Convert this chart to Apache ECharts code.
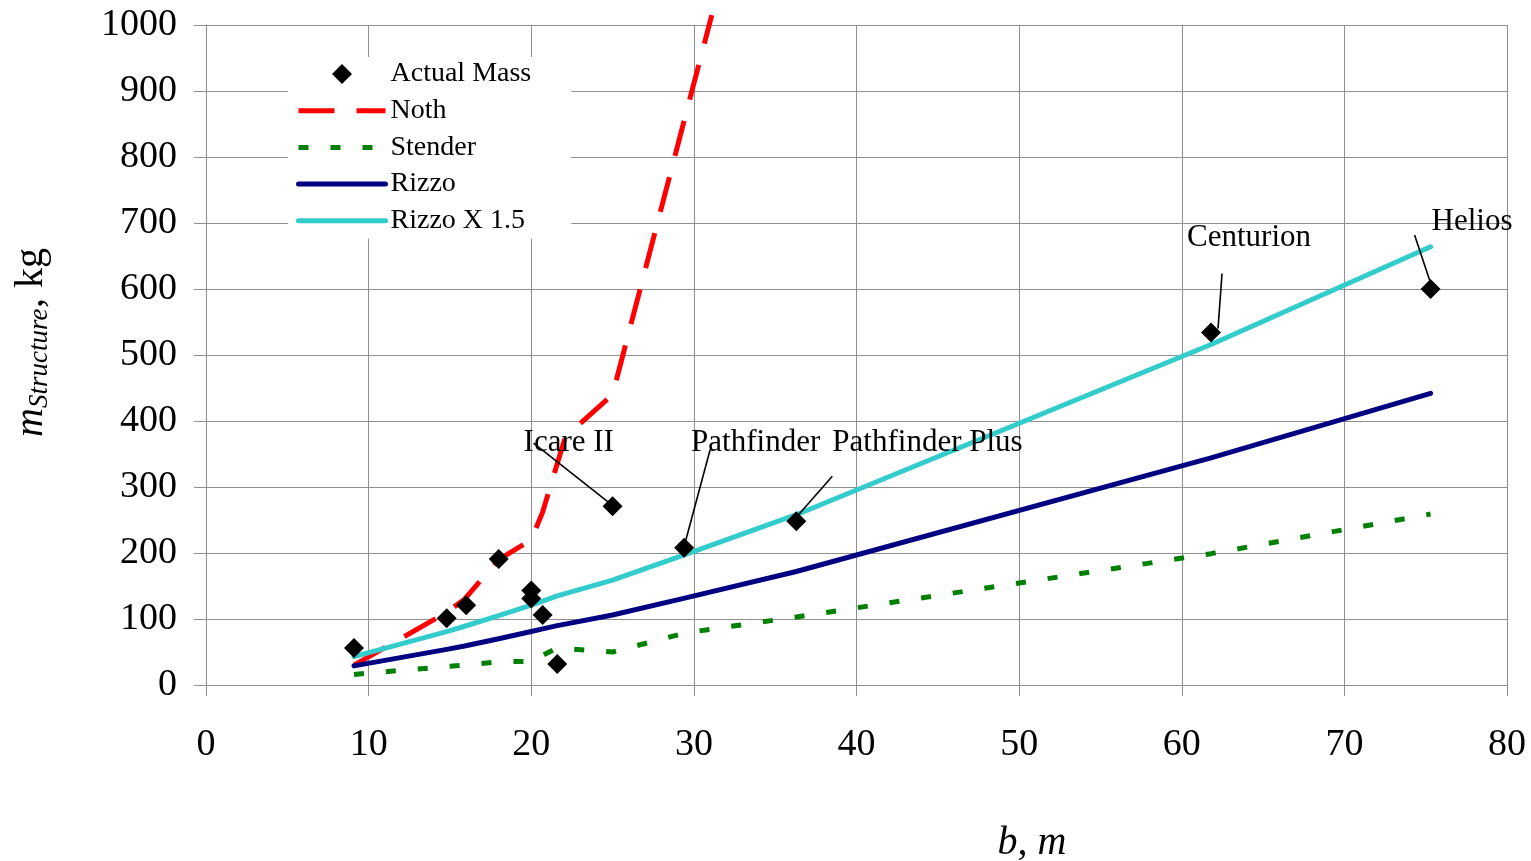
<!DOCTYPE html>
<html>
<head>
<meta charset="utf-8">
<script src="https://cdn.jsdelivr.net/npm/echarts@6/dist/echarts.min.js"></script>
<style>
html, body { margin: 0; padding: 0; background: #fff; }
#chart { width: 1531px; height: 861px; }
</style>
</head>
<body>
<div id="chart"></div>
<script>
const FONT = '"Liberation Serif", "Times New Roman", serif';

// Built aircraft: wingspan b (m) and measured structural mass (kg)
const craftSpan = [9.1, 14.8, 16.0, 18.0, 20.0, 20.0, 20.7, 21.6, 25.0, 29.4, 36.3, 61.8, 75.3];
const craftMass = [56, 101, 121, 191, 143, 131, 106, 32, 271, 208, 248, 534, 600];

// Named aircraft (index into the arrays above)
const namedLabels = ['Icare II', 'Pathfinder', 'Pathfinder Plus', 'Centurion', 'Helios'];
const namedIndex = [8, 9, 10, 11, 12];

// Structural mass estimates from the four models
const nothSpan = [9.1, 14.8, 15.9, 18.0, 20.0, 20.7, 22.1, 25.0, 31.1];
const nothMass = [30, 110, 130, 190, 220, 262, 376, 440, 1015];

const stenderSpan = [9.1, 14.8, 15.9, 18.0, 20.0, 20.7, 21.6, 25.0, 29.5, 36.3, 61.8, 75.3];
const stenderMass = [16, 28, 30, 35, 36, 45, 56, 50, 79, 103, 199, 259];

const rizzoSpan = [9.1, 14.8, 15.9, 18.0, 20.0, 20.7, 21.6, 25.0, 29.5, 36.3, 61.8, 75.3];
const rizzoMass = [29, 54, 59, 70, 81, 85, 90, 106, 132, 172, 344, 442];

const rizzo15Span = [9.1, 14.8, 15.9, 18.0, 20.0, 20.7, 21.6, 25.0, 29.5, 36.3, 61.8, 75.3];
const rizzo15Mass = [43, 81, 89, 105, 121, 127, 135, 159, 198, 258, 516, 664];

// Axis ticks
const xTicks = { min: 0, max: 80, step: 10 };
const yTicks = { min: 0, max: 1000, step: 100 };

// Callout placement for each named aircraft, in pixels from its marker:
// leader line from (sx, sy) to (lx, ly), text starting at (tx, ty)
const calloutOffsets = [
  { sx: -3, sy: -3, lx: -79, ly: -63, tx: -89, ty: -63 },
  { sx: 1, sy: -5, lx: 26, ly: -98, tx: 7, ty: -105 },
  { sx: 0, sy: -4, lx: 36, ly: -45, tx: 36, ty: -78 },
  { sx: 7, sy: -4, lx: 11, ly: -59, tx: -24, ty: -95 },
  { sx: 0, sy: -6, lx: -16, ly: -54, tx: 1, ty: -67 }
];

const zip = (xs, ys) => xs.map((x, i) => [x, ys[i]]);

const GRID_COLOR = '#8f8f8f';
const DIAMOND = 'path://M10,0 L20,10 L10,20 L0,10 Z';

const chart = echarts.init(document.getElementById('chart'), null, { renderer: 'canvas' });

// legend entries for the model lines show the stroke only
const lineEntry = name => ({ name: name, itemStyle: { opacity: 0 } });

const option = {
  backgroundColor: '#fff',
  animation: false,
  grid: { left: 206, right: 24, top: 25, bottom: 176, containLabel: false, outerBoundsMode: 'none' },
  xAxis: {
    type: 'value',
    min: xTicks.min, max: xTicks.max, interval: xTicks.step,
    axisLine: { show: true, lineStyle: { color: GRID_COLOR, width: 1 } },
    axisTick: { show: true, length: 11, lineStyle: { color: GRID_COLOR } },
    axisLabel: { color: '#000', fontFamily: FONT, fontSize: 38, margin: 41, formatter: v => String(v) },
    splitLine: { show: true, lineStyle: { color: GRID_COLOR, width: 1 } }
  },
  yAxis: {
    type: 'value',
    min: yTicks.min, max: yTicks.max, interval: yTicks.step,
    axisLine: { show: true, lineStyle: { color: GRID_COLOR, width: 1 } },
    axisTick: { show: true, length: 12, lineStyle: { color: GRID_COLOR } },
    axisLabel: { color: '#000', fontFamily: FONT, fontSize: 38, margin: 29, formatter: v => String(v) },
    splitLine: { show: true, lineStyle: { color: GRID_COLOR, width: 1 } }
  },
  legend: {
    orient: 'vertical',
    left: 288, top: 57,
    padding: [3, 40, 4, 8],
    backgroundColor: '#fff',
    itemWidth: 87, itemHeight: 20, itemGap: 8.7,
    textStyle: { color: '#000', fontFamily: FONT, fontSize: 28, lineHeight: 28 },
    lineStyle: { width: 'inherit' },
    data: [
      { name: 'Actual Mass', icon: DIAMOND },
      lineEntry('Noth'),
      lineEntry('Stender'),
      lineEntry('Rizzo'),
      lineEntry('Rizzo X 1.5')
    ]
  },
  series: [
    {
      name: 'Noth', type: 'line', data: zip(nothSpan, nothMass),
      symbol: 'none', clip: false, z: 2,
      lineStyle: { color: '#ff0000', width: 5, type: [36, 22], cap: 'butt' },
      itemStyle: { color: '#ff0000' }
    },
    {
      name: 'Stender', type: 'line', data: zip(stenderSpan, stenderMass),
      symbol: 'none', z: 2,
      lineStyle: { color: '#008000', width: 5, type: [10, 22], cap: 'butt' },
      itemStyle: { color: '#008000' }
    },
    {
      name: 'Rizzo', type: 'line', data: zip(rizzoSpan, rizzoMass),
      symbol: 'none', z: 2,
      lineStyle: { color: '#000080', width: 5, cap: 'round', join: 'round' },
      itemStyle: { color: '#000080' }
    },
    {
      name: 'Rizzo X 1.5', type: 'line', data: zip(rizzo15Span, rizzo15Mass),
      symbol: 'none', z: 2,
      lineStyle: { color: '#33cccc', width: 5, cap: 'round', join: 'round' },
      itemStyle: { color: '#33cccc' }
    },
    {
      name: 'Actual Mass', type: 'scatter', data: zip(craftSpan, craftMass),
      symbol: 'diamond', symbolSize: 20, z: 4,
      itemStyle: { color: '#000', opacity: 1 }
    },
    {
      name: 'callouts', type: 'custom', z: 3, clip: false, silent: true,
      data: namedIndex.map(i => [craftSpan[i], craftMass[i]]),
      renderItem: function (params, api) {
        const p = api.coord([api.value(0), api.value(1)]);
        const o = calloutOffsets[params.dataIndex];
        return {
          type: 'group',
          children: [
            {
              type: 'line',
              shape: { x1: p[0] + o.sx, y1: p[1] + o.sy, x2: p[0] + o.lx, y2: p[1] + o.ly },
              style: { stroke: '#000', lineWidth: 1.6 }
            },
            {
              type: 'text',
              x: p[0] + o.tx, y: p[1] + o.ty,
              style: {
                text: namedLabels[params.dataIndex],
                fill: '#000', fontFamily: FONT, fontSize: 31,
                align: 'left', verticalAlign: 'middle'
              }
            }
          ]
        };
      }
    }
  ],
  graphic: [
    {
      type: 'text', x: 1032, y: 843,
      style: {
        text: 'b, m', fill: '#000', font: 'italic 40px ' + FONT,
        align: 'center', verticalAlign: 'middle'
      }
    },
    {
      type: 'group', x: 31, y: 437, rotation: Math.PI / 2,
      children: [
        { type: 'text', x: 0, y: 0, style: { text: 'm', fill: '#000', font: 'italic 40px ' + FONT, align: 'left', verticalAlign: 'middle' } },
        { type: 'text', x: 29, y: 9, style: { text: 'Structure', fill: '#000', font: 'italic 27px ' + FONT, align: 'left', verticalAlign: 'middle' } },
        { type: 'text', x: 129, y: 0, style: { text: ', kg', fill: '#000', font: '40px ' + FONT, align: 'left', verticalAlign: 'middle' } }
      ]
    }
  ]
};

chart.setOption(option);
</script>
</body>
</html>
